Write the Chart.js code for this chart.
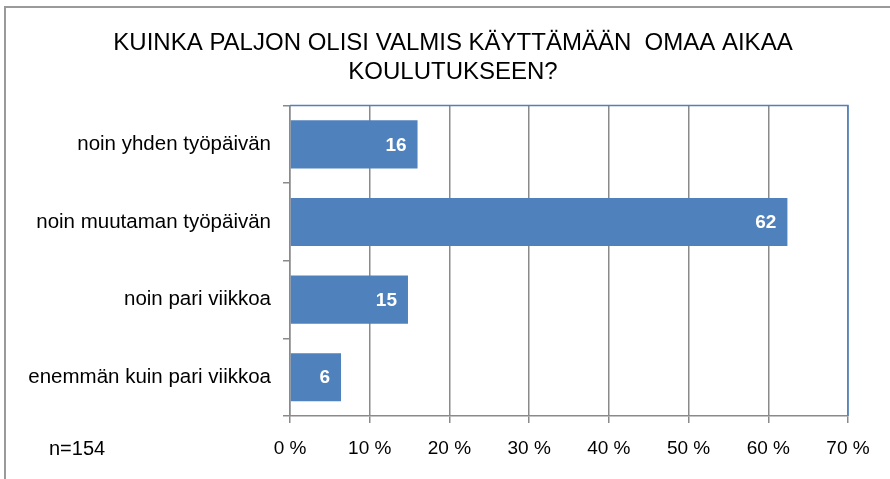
<!DOCTYPE html>
<html>
<head>
<meta charset="utf-8">
<script src="https://cdn.jsdelivr.net/npm/chart.js@4/dist/chart.umd.min.js"></script>
<style>
  html, body { margin: 0; padding: 0; background: #fff; }
  #wrap { position: relative; width: 890px; height: 479px; overflow: hidden; }
  #frame { position: absolute; left: 4px; top: 6px; width: 950px; height: 520px; border: 2px solid #9a9a9a; box-sizing: border-box; }
  #c { position: absolute; left: 0; top: 0; }
</style>
</head>
<body>
<div id="wrap">
  <div id="frame"></div>
  <canvas id="c" width="890" height="479"></canvas>
</div>
<script>
// data
const titleLines = ["KUINKA PALJON OLISI VALMIS KÄYTTÄMÄÄN  OMAA AIKAA", "KOULUTUKSEEN?"];
const categories = ["noin yhden työpäivän", "noin muutaman työpäivän", "noin pari viikkoa", "enemmän kuin pari viikkoa"];
const values = [16.0, 62.4, 14.8, 6.4];
const xTicks = [0, 10, 20, 30, 40, 50, 60, 70];
const note = "n=154";

const FONT = "'Liberation Sans', Arial, sans-serif";
const BLUE = "#4F81BD";
const GRID = "#8a8a8a";

// title sits centred a bit right of the canvas centre
const titleShift = {
  id: "titleShift",
  afterLayout(chart) {
    if (chart.titleBlock) chart.titleBlock.left = 58;
  }
};

const labelPlugin = {
  id: "barLabels",
  afterDatasetsDraw(chart) {
    const ctx = chart.ctx;
    const meta = chart.getDatasetMeta(0);
    ctx.save();
    ctx.font = "bold 19px " + FONT;
    ctx.fillStyle = "#fff";
    ctx.textAlign = "right";
    ctx.textBaseline = "middle";
    meta.data.forEach((bar, i) => {
      ctx.fillText(String(Math.round(values[i])), bar.x - 11, bar.y + 1);
    });
    ctx.restore();
  }
};

const framePlugin = {
  id: "plotFrame",
  afterDraw(chart) {
    const a = chart.chartArea, ctx = chart.ctx;
    ctx.save();
    ctx.strokeStyle = BLUE;
    ctx.lineWidth = 1.5;
    ctx.beginPath();
    ctx.moveTo(a.left, a.top);
    ctx.lineTo(a.right, a.top);
    ctx.lineTo(a.right, a.bottom);
    ctx.stroke();
    // n= note
    ctx.font = "20px " + FONT;
    ctx.fillStyle = "#000";
    ctx.textAlign = "left";
    ctx.textBaseline = "middle";
    ctx.fillText(note, 49, 449);
    ctx.restore();
  }
};

new Chart(document.getElementById("c"), {
  type: "bar",
  data: {
    labels: categories,
    datasets: [{
      data: values,
      backgroundColor: BLUE,
      borderWidth: 0,
      barPercentage: 0.62,
      categoryPercentage: 1
    }]
  },
  options: {
    indexAxis: "y",
    responsive: false,
    animation: false,
    devicePixelRatio: 1,
    layout: { padding: { left: 0, right: 42, top: 0, bottom: 0 } },
    plugins: {
      legend: { display: false },
      tooltip: { enabled: false },
      title: {
        display: true,
        text: titleLines,
        color: "#000",
        font: { family: FONT, size: 24, weight: "normal", lineHeight: 1.2 },
        padding: { top: 29, bottom: 19 }
      }
    },
    scales: {
      x: {
        min: 0,
        max: 70,
        afterFit(s) { s.height = 63; },
        afterBuildTicks(s) { s.ticks = xTicks.map(v => ({ value: v })); },
        ticks: {
          color: "#000",
          font: { family: FONT, size: 19 },
          padding: 14,
          maxRotation: 0,
          callback: v => v + " %"
        },
        grid: { color: GRID, lineWidth: 1.5, tickLength: 7 },
        border: { color: GRID, width: 1.5 }
      },
      y: {
        afterFit(s) { s.width = 290; },
        ticks: {
          color: "#000",
          font: { family: FONT, size: 20.5 },
          padding: 12
        },
        grid: { drawOnChartArea: false, color: GRID, lineWidth: 1.5, tickLength: 7, offset: true },
        border: { color: GRID, width: 1.5 }
      }
    }
  },
  plugins: [titleShift, labelPlugin, framePlugin]
});
</script>
</body>
</html>
